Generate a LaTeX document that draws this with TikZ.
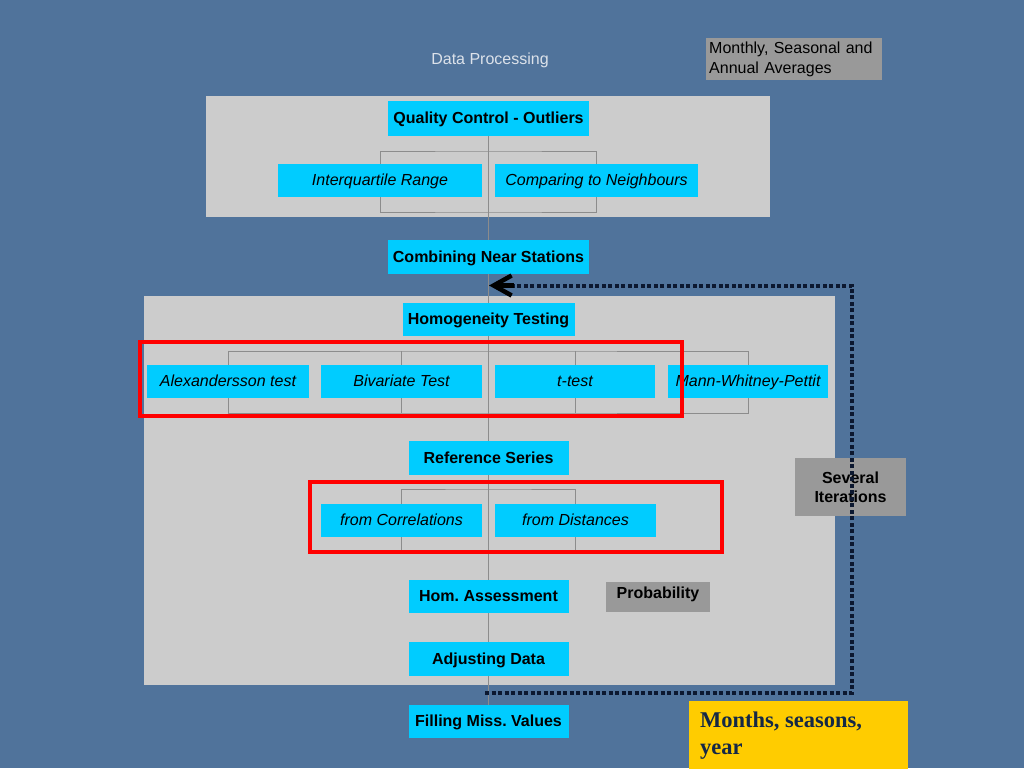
\documentclass[tikz,border=0pt]{standalone}
\usepackage{fontspec}
\setmainfont{Liberation Sans}
\newfontfamily\serifbold{Liberation Serif}
\usetikzlibrary{arrows.meta}
\frenchspacing
\definecolor{bgblue}{RGB}{80,115,155}
\definecolor{panelgrey}{RGB}{204,204,204}
\definecolor{boxcyan}{RGB}{0,204,255}
\definecolor{darkgrey}{RGB}{153,153,153}
\definecolor{linegrey}{RGB}{140,140,140}
\definecolor{dotnavy}{RGB}{12,24,48}
\definecolor{gold}{RGB}{255,204,0}
\definecolor{navytext}{RGB}{20,40,70}
\pgfdeclarelayer{back}
\pgfdeclarelayer{lines}
\pgfsetlayers{back,lines,main}
\tikzset{
  cbox/.style={fill=boxcyan, inner sep=0pt, text=black, text height=12pt, text depth=2pt, font=\fontsize{16}{18}\selectfont},
  cboxb/.style={cbox, font=\fontsize{16}{18}\selectfont\bfseries},
  cboxi/.style={cbox, font=\fontsize{16}{18}\selectfont\itshape},
  gbox/.style={fill=darkgrey, inner sep=0pt, text=black, font=\fontsize{16}{19}\selectfont\bfseries, align=center},
  panel/.style={fill=panelgrey},
  conn/.style={draw=linegrey, line width=0.8pt},
  redframe/.style={draw=red, line width=4pt},
  dotline/.style={draw=dotnavy, line width=4pt, dash pattern=on 4pt off 2.5pt},
}
\begin{document}
\begin{tikzpicture}[x=1pt,y=-1pt]
\useasboundingbox (0,0) rectangle (1024,768);
% background and panels
\begin{pgfonlayer}{back}
\fill[bgblue] (0,0) rectangle (1024,768);
\fill[panel] (206,96) rectangle (770,217);
\fill[panel] (144,296) rectangle (835,685);
\end{pgfonlayer}
% title
\node[text={rgb,255:red,220;green,226;blue,234}, font=\fontsize{16}{18}\selectfont] (title) at (490,60) {Data Processing};
\node[fill=darkgrey, minimum width=176pt, minimum height=42pt, inner sep=3pt, text width=170pt, align=left, font=\fontsize{16}{20}\selectfont, anchor=north west] (mon) at (706,38) {Monthly, Seasonal and\\Annual Averages};
% boxes
\node[cboxb, minimum width=201pt, minimum height=35pt] (qc) at (488.5,118.5) {Quality Control - Outliers};
\node[cboxi, minimum width=204pt, minimum height=33pt] (iqr) at (380,180.5) {Interquartile Range};
\node[cboxi, minimum width=203pt, minimum height=33pt] (cmp) at (596.5,180.5) {Comparing to Neighbours};
\node[cboxb, minimum width=201pt, minimum height=34pt] (cns) at (488.5,257) {Combining Near Stations};
\node[cboxb, minimum width=172pt, minimum height=33pt] (hom) at (488.5,319.5) {Homogeneity Testing};
\node[cboxi, minimum width=162pt, minimum height=33pt] (alx) at (228,381.5) {Alexandersson test};
\node[cboxi, minimum width=161pt, minimum height=33pt] (biv) at (401.5,381.5) {Bivariate Test};
\node[cboxi, minimum width=160pt, minimum height=33pt] (tt) at (575,381.5) {t-test};
\node[cboxi, minimum width=160pt, minimum height=33pt] (mwp) at (748,381.5) {Mann-Whitney-Pettit};
\node[cboxb, minimum width=160pt, minimum height=34pt] (ref) at (488.5,458) {Reference Series};
\node[cboxi, minimum width=161pt, minimum height=33pt] (fcor) at (401.5,520.5) {from Correlations};
\node[cboxi, minimum width=161pt, minimum height=33pt] (fdis) at (575.5,520.5) {from Distances};
\node[cboxb, minimum width=160pt, minimum height=33pt] (ha) at (488.5,596.5) {Hom. Assessment};
\node[cboxb, minimum width=160pt, minimum height=34pt] (adj) at (488.5,659) {Adjusting Data};
\node[cboxb, minimum width=160pt, minimum height=33pt] (fill) at (488.5,721.5) {Filling Miss. Values};
\node[gbox, minimum width=104pt, minimum height=30pt] (prob) at (658,597) {};
\node[font=\fontsize{16}{19}\selectfont\bfseries, text=black, inner sep=0pt] (probtext) at (658,594) {Probability};
\node[gbox, minimum width=111pt, minimum height=58pt] (sev) at (850.5,487) {Several\\Iterations};
\node[fill=gold, anchor=north west, minimum width=219pt, minimum height=70pt, inner sep=0pt] (yel) at (689,701) {};
\node[anchor=north west, text=navytext, align=left, inner sep=0pt, font=\serifbold\fontsize{22.5}{27}\selectfont\bfseries] (yeltext) at (700,712) {Months, seasons,\\year};
% connector bar levels
\coordinate (b1t) at (488.5,151);
\coordinate (b1b) at (488.5,212);
\coordinate (b2t) at (488.5,351);
\coordinate (b2b) at (488.5,413);
\coordinate (b3t) at (488.5,489);
\coordinate (b3b) at (488.5,552);
\begin{pgfonlayer}{lines}
\draw[conn] (qc.south) -- (cns.north);
\draw[conn] (cns.south) -- (hom.north);
\draw[conn] (hom.south) -- (ref.north);
\draw[conn] (ref.south) -- (ha.north);
\draw[conn] (ha.south) -- (adj.north);
\draw[conn] (adj.south) -- (fill.north);
\draw[conn] (iqr.center) |- (b1t) -| (cmp.center);
\draw[conn] (iqr.center) |- (b1b) -| (cmp.center);
\draw[conn] (alx.center) |- (b2t) -| (mwp.center);
\draw[conn] (alx.center) |- (b2b) -| (mwp.center);
\draw[conn] (biv.center) -- (biv.center |- b2t);
\draw[conn] (biv.center) -- (biv.center |- b2b);
\draw[conn] (tt.center) -- (tt.center |- b2t);
\draw[conn] (tt.center) -- (tt.center |- b2b);
\draw[conn] (fcor.center) |- (b3t) -| (fdis.center);
\draw[conn] (fcor.center) |- (b3b) -| (fdis.center);
\end{pgfonlayer}
% red frames
\draw[redframe] (140,342) rectangle (682,416);
\draw[redframe] (310,482) rectangle (722,552);
% iteration loop
\coordinate (loopstart) at (485,692.5);
\coordinate (loopc1) at (852,692.5);
\coordinate (loopc2) at (852,285.5);
\coordinate (looptip) at (489,285.5);
\draw[dotline] (loopstart) -- (loopc1) -- (loopc2) -- (512,285.5);
\draw[draw=black, line width=4.5pt, -{Straight Barb[length=18pt,width=20pt,line width=4.5pt]}] (514,285.5) -- (looptip);
\end{tikzpicture}
\end{document}
